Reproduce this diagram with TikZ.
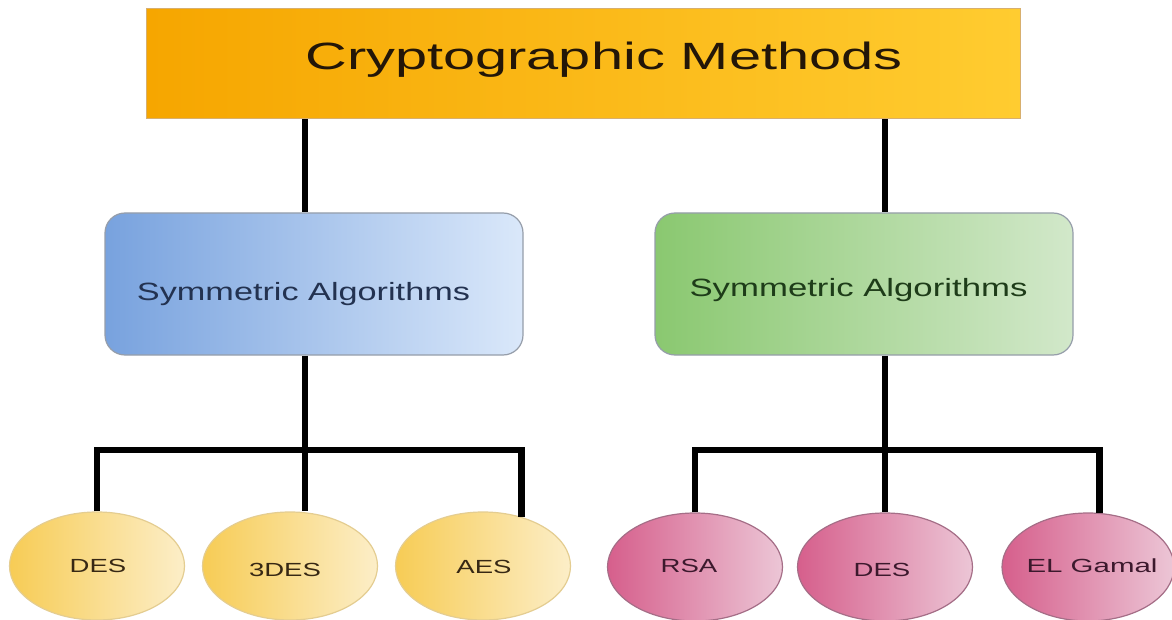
\documentclass[tikz,border=0pt]{standalone}
\usepackage{fontspec}
\setmainfont{Liberation Sans}
\usetikzlibrary{shapes.geometric,calc}
\definecolor{topL}{RGB}{246,166,0}
\definecolor{topR}{RGB}{255,204,48}
\definecolor{topBd}{RGB}{215,175,110}
\definecolor{topTxt}{RGB}{35,22,8}
\definecolor{blueL}{RGB}{120,162,222}
\definecolor{blueR}{RGB}{218,232,250}
\definecolor{greenL}{RGB}{138,200,112}
\definecolor{greenR}{RGB}{210,232,202}
\definecolor{boxBd}{RGB}{150,158,170}
\definecolor{yelL}{RGB}{247,204,85}
\definecolor{yelR}{RGB}{252,238,200}
\definecolor{yelBd}{RGB}{228,205,145}
\definecolor{pinkL}{RGB}{214,95,140}
\definecolor{pinkR}{RGB}{236,198,214}
\definecolor{pinkBd}{RGB}{165,110,135}
\definecolor{blueTxt}{RGB}{35,50,80}
\definecolor{greenTxt}{RGB}{30,60,25}
\definecolor{yelTxt}{RGB}{55,40,20}
\definecolor{pinkTxt}{RGB}{60,25,45}
\tikzset{
  conn/.style={line width=6.5pt, black},
  topbox/.style={rectangle, draw=topBd, line width=1pt, left color=topL, right color=topR,
    minimum width=874pt, minimum height=110pt, inner sep=0pt},
  algbox/.style={rectangle, rounded corners=20pt, draw=boxBd, line width=1.2pt,
    minimum width=418pt, minimum height=142pt, inner sep=0pt},
  blueshade/.style={left color=blueL, right color=blueR},
  greenshade/.style={left color=greenL, right color=greenR},
  oval/.style={ellipse, line width=1.2pt, minimum width=175pt, minimum height=108pt, inner sep=0pt},
  yeloval/.style={oval, draw=yelBd, left color=yelL, right color=yelR},
  pinkoval/.style={oval, draw=pinkBd, left color=pinkL, right color=pinkR},
  txt/.style={inner sep=0pt, text height=0pt, text depth=0pt},
  bigtxt/.style={txt, text=topTxt, font=\fontsize{38}{42}\selectfont},
  midtxt/.style={txt, font=\fontsize{25}{28}\selectfont},
  smalltxt/.style={txt, font=\fontsize{19}{22}\selectfont},
}
\newcommand{\stretched}[2]{\scalebox{#1}[1]{#2}}
\begin{document}
\begin{tikzpicture}[x=1pt,y=-1pt]
\useasboundingbox[fill=white] (0,0) rectangle (1172,620);
% boxes
\node[topbox, label={[bigtxt, xshift=21pt, yshift=-6pt]center:\stretched{1.52}{Cryptographic Methods}}] (top) at (583,64) {};
\node[algbox, blueshade, label={[midtxt, text=blueTxt, xshift=-10.5pt, yshift=-16.5pt]center:\stretched{1.37}{Symmetric Algorithms}}] (blue) at (314,284) {};
\node[algbox, greenshade, label={[midtxt, text=greenTxt, xshift=-5.5pt, yshift=-13pt]center:\stretched{1.39}{Symmetric Algorithms}}] (green) at (864,284) {};
% ellipses
\node[yeloval, label={[smalltxt, text=yelTxt, xshift=1pt, yshift=-6pt]center:\stretched{1.45}{DES}}] (des1) at (97,566) {};
\node[yeloval, label={[smalltxt, text=yelTxt, xshift=-5pt, yshift=-10pt]center:\stretched{1.45}{3DES}}] (des3) at (290,566) {};
\node[yeloval, label={[smalltxt, text=yelTxt, xshift=1pt, yshift=-7pt]center:\stretched{1.45}{AES}}] (aes) at (483,566) {};
\node[pinkoval, label={[smalltxt, text=pinkTxt, xshift=-6pt, yshift=-5pt]center:\stretched{1.45}{RSA}}] (rsa) at (695,567) {};
\node[pinkoval, label={[smalltxt, text=pinkTxt, xshift=-3pt, yshift=-9pt]center:\stretched{1.45}{DES}}] (des2) at (885,567) {};
\node[pinkoval, minimum width=172pt, label={[smalltxt, text=pinkTxt, xshift=4pt, yshift=-5.5pt]center:\stretched{1.55}{EL Gamal}}] (elg) at (1088,567) {};
% junctions
\coordinate (jL) at (305,450);
\coordinate (jR) at (885,450);
% connectors
\draw[conn] (top.south -| jL) -- (blue.north -| jL);
\draw[conn] (top.south -| jR) -- (green.north -| jR);
\draw[conn] (blue.south -| jL) -- (jL) -- (jL |- des3.north);
\draw[conn] (des1.north) |- (jL) -| (aes.52);
\draw[conn] (green.south -| jR) -- (jR) -- (des2.north);
\draw[conn] (rsa.north) |- (jR) -| (elg.78);
\end{tikzpicture}
\end{document}
